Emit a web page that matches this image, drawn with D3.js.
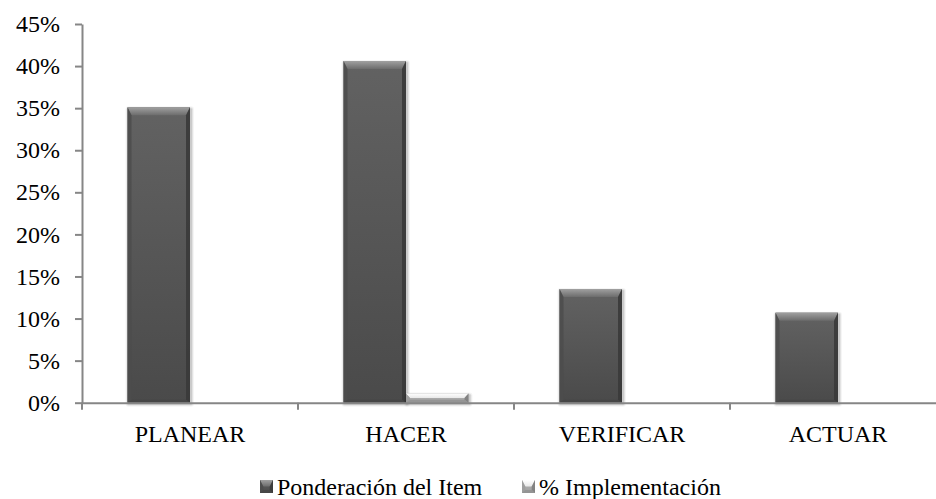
<!DOCTYPE html>
<html>
<head>
<meta charset="utf-8">
<script src="https://cdn.jsdelivr.net/npm/d3@7/dist/d3.min.js"></script>
<style>
  html, body { margin: 0; padding: 0; background: #fff; }
</style>
</head>
<body>
<svg id="chart" width="936" height="499" font-family="Liberation Serif"></svg>
<script>
const categories = ["PLANEAR", "HACER", "VERIFICAR", "ACTUAR"];
const seriesNames = ["Ponderación del Item", "% Implementación"];
const ponderacion = [35.1, 40.6, 13.5, 10.7];
const implementacion = [0, 1.1, 0, 0];
const yTicks = [0, 5, 10, 15, 20, 25, 30, 35, 40, 45];

(function () {
const FONT = "Liberation Serif";
const svg = d3.select("#chart");
const pLeft = 82, pRight = 946, pTop = 24, pBottom = 402.7;

const x0 = d3.scaleBand().domain(categories).range([pLeft, pRight]).padding(0);
const x1 = d3.scaleBand().domain(seriesNames).range([0, x0.bandwidth()]).paddingInner(0).paddingOuter(0.728);
const y = d3.scaleLinear().domain([0, 45]).range([pBottom, pTop]);

const styles = {
  "Ponderación del Item": {
    body: ["#626262", "#4a4a4a"], topB: ["#a0a0a0", "#6c6c6c"], leftB: "#4c4c4c", rightB: "#3a3a3a", botB: "#444444"
  },
  "% Implementación": {
    body: ["#b4b4b4", "#a0a0a0"], topB: ["#ffffff", "#e8e8e8"], leftB: "#9c9c9c", rightB: "#7e7e7e", botB: "#8f8f8f"
  }
};

const defs = svg.append("defs");
seriesNames.forEach((s, i) => {
  const st = styles[s];
  const g1 = defs.append("linearGradient").attr("id", "body" + i).attr("x1", 0).attr("y1", 0).attr("x2", 0).attr("y2", 1);
  g1.append("stop").attr("offset", "0%").attr("stop-color", st.body[0]);
  g1.append("stop").attr("offset", "100%").attr("stop-color", st.body[1]);
  const g2 = defs.append("linearGradient").attr("id", "topb" + i).attr("x1", 0).attr("y1", 0).attr("x2", 0).attr("y2", 1);
  g2.append("stop").attr("offset", "0%").attr("stop-color", st.topB[0]);
  g2.append("stop").attr("offset", "100%").attr("stop-color", st.topB[1]);
});

function bevelBar(g, x, yTop, w, h, i, shadow) {
  const st = styles[seriesNames[i]];
  const bt = Math.min(8, h / 2), bs = Math.min(4, w / 4), bb = Math.min(3, h / 3);
  const grp = g.append("g");
  if (shadow) {
    [[1, 0.10], [2, 0.07], [3, 0.04]].forEach(([o, a]) => {
      grp.append("rect").attr("x", x - o + 1).attr("y", yTop - o + 2).attr("width", w + 2 * o).attr("height", h + 2 * o - 1)
        .attr("rx", o).attr("fill", "#000").attr("opacity", a);
    });
  }
  grp.append("rect").attr("x", x).attr("y", yTop).attr("width", w).attr("height", h)
    .attr("fill", `url(#body${i})`);
  const pts = a => a.map(p => p.join(",")).join(" ");
  grp.append("polygon").attr("points", pts([[x, yTop], [x + w, yTop], [x + w - bs, yTop + bt], [x + bs, yTop + bt]])).attr("fill", `url(#topb${i})`);
  grp.append("polygon").attr("points", pts([[x, yTop], [x + bs, yTop + bt], [x + bs, yTop + h - bb], [x, yTop + h]])).attr("fill", st.leftB).attr("opacity", 0.85);
  grp.append("polygon").attr("points", pts([[x + w, yTop], [x + w - bs, yTop + bt], [x + w - bs, yTop + h - bb], [x + w, yTop + h]])).attr("fill", st.rightB).attr("opacity", 0.9);
  grp.append("polygon").attr("points", pts([[x, yTop + h], [x + bs, yTop + h - bb], [x + w - bs, yTop + h - bb], [x + w, yTop + h]])).attr("fill", st.botB).attr("opacity", 0.7);
}

const barsG = svg.append("g");
categories.forEach((c, ci) => {
  const vals = [ponderacion[ci], implementacion[ci]];
  vals.forEach((v, si) => {
    if (v <= 0) return;
    const xx = x0(c) + x1(seriesNames[si]);
    const yy = y(v);
    bevelBar(barsG, xx, yy, x1.bandwidth(), y(0) - yy, si, true);
  });
});

// Y axis
const yAxis = d3.axisLeft(y).tickValues(yTicks).tickFormat(d => d + "%").tickSizeInner(7).tickSizeOuter(0).tickPadding(15);
const ya = svg.append("g").attr("transform", `translate(${pLeft},0)`).call(yAxis)
  .attr("font-family", FONT).attr("font-size", 24);
ya.select(".domain").attr("stroke", "#868686").attr("stroke-width", 2);
ya.selectAll(".tick line").attr("stroke", "#868686").attr("stroke-width", 2);
ya.selectAll(".tick text").attr("fill", "#000").style("font-family", FONT).style("font-size", "24px");

// X axis
const xAxis = d3.axisBottom(x0).tickSize(0).tickPadding(22);
const xa = svg.append("g").attr("transform", `translate(0,${y(0)})`).call(xAxis)
  .attr("font-family", FONT).attr("font-size", 24);
xa.select(".domain").attr("stroke", "#868686").attr("stroke-width", 2);
xa.selectAll(".tick text").attr("fill", "#000").style("font-family", FONT).style("font-size", "24px");
const bounds = categories.map(c => x0(c)).concat([pRight]);
xa.selectAll(".bound").data(bounds).enter().append("line").attr("class", "bound")
  .attr("x1", d => d).attr("x2", d => d).attr("y1", 0).attr("y2", 7)
  .attr("stroke", "#868686").attr("stroke-width", 2);

// Legend
const legend = svg.append("g");
const legX = [260, 522];
seriesNames.forEach((s, i) => {
  const g = legend.append("g").attr("transform", `translate(${legX[i]},480)`);
  bevelBar(g, 0, 0, 13, 13, i, false);
  g.append("text").attr("x", 17).attr("y", 7).attr("dy", "0.35em")
    .attr("fill", "#000").style("font-family", FONT).style("font-size", "24px").text(s);
});
})();
</script>
</body>
</html>
